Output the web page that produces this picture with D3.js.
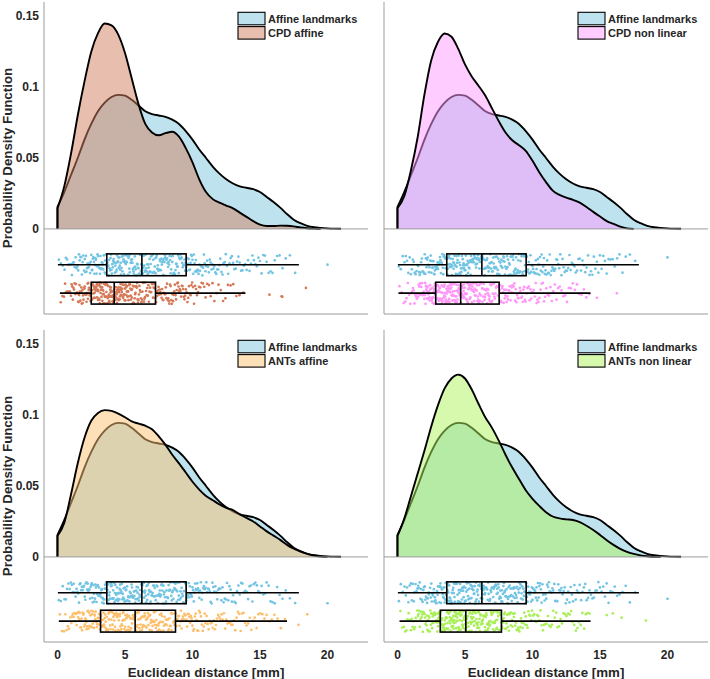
<!DOCTYPE html>
<html>
<head>
<meta charset="utf-8">
<script src="https://cdn.jsdelivr.net/npm/d3@7"></script>
<style>
  html, body { margin: 0; padding: 0; background: #fff; }
  svg { display: block; font-family: "Liberation Sans", Arial, Helvetica, sans-serif; }
</style>
</head>
<body>
<svg id="chart" width="710" height="679"></svg>
<script>
// ---------------- DATA ----------------
const xGrid = [0,0.5,1,1.5,2,2.5,3,3.5,4,4.5,5,5.5,6,6.5,7,7.5,8,8.5,9,9.5,10,10.5,11,11.5,12,12.5,13,13.5,14,14.5,15,15.5,16,16.5,17,17.5,18,18.5,19,19.5,20,20.5,21];

const seriesNames = ["Affine landmarks", "CPD affine", "CPD non linear", "ANTs affine", "ANTs non linear"];

const densAffineLandmarks = [0.0155,0.026,0.038,0.050,0.063,0.074,0.083,0.089,0.093,0.0945,0.094,0.091,0.087,0.083,0.081,0.080,0.079,0.077,0.074,0.069,0.063,0.056,0.050,0.044,0.039,0.035,0.032,0.030,0.029,0.028,0.026,0.0225,0.019,0.015,0.0105,0.0065,0.004,0.0022,0.0012,0.0007,0.0004,0.0002,0.0001];
const densCPDAffine = [0.0146,0.030,0.053,0.080,0.104,0.125,0.138,0.1448,0.1435,0.137,0.124,0.106,0.088,0.074,0.068,0.066,0.0675,0.0685,0.065,0.057,0.047,0.035,0.026,0.021,0.0185,0.0165,0.0145,0.0115,0.0085,0.0055,0.003,0.002,0.002,0.0023,0.0022,0.0018,0.001,0.0005,0.0002,0];
const densCPDNonLinear = [0.0146,0.023,0.0415,0.065,0.095,0.119,0.132,0.1378,0.1355,0.127,0.116,0.1075,0.101,0.094,0.085,0.076,0.068,0.0625,0.059,0.055,0.048,0.040,0.033,0.027,0.024,0.022,0.0205,0.0185,0.0155,0.012,0.0087,0.0055,0.0035,0.0016,0.0004,0];
const densANTsAffine = [0.0148,0.024,0.044,0.066,0.084,0.096,0.1015,0.1035,0.103,0.101,0.0985,0.0955,0.094,0.0925,0.090,0.085,0.079,0.072,0.066,0.0595,0.053,0.0475,0.043,0.040,0.037,0.0345,0.033,0.030,0.0275,0.025,0.0215,0.018,0.015,0.012,0.0085,0.0058,0.0037,0.0022,0.001,0.0002,0];
const densANTsNonLinear = [0.0148,0.027,0.043,0.059,0.075,0.092,0.107,0.119,0.1258,0.1285,0.1258,0.118,0.108,0.0985,0.091,0.082,0.072,0.063,0.055,0.047,0.041,0.036,0.0315,0.0285,0.0272,0.0265,0.026,0.0245,0.022,0.019,0.0155,0.0118,0.0085,0.0057,0.0035,0.0021,0.0011,0.0005,0.0001,0];

// box statistics: [whisker low, Q1, median, Q3, whisker high]
const boxAffineLandmarks = [0.03, 3.65, 6.25, 9.53, 17.88];
const boxCPDAffine       = [0.18, 2.5, 4.2, 7.26, 13.92];
const boxCPDNonLinear    = [0.07, 2.83, 4.68, 7.53, 14.3];
const boxANTsAffine      = [0.1, 3.19, 5.75, 8.74, 17.0];
const boxANTsNonLinear   = [0.15, 3.17, 5.06, 7.7, 14.3];

const outAffineLandmarks = [20.0];
const outCPDAffine       = [15.7, 16.6, 16.65, 18.4];
const outCPDNonLinear    = [14.77, 16.25];
const outANTsAffine      = [17.85, 18.5];
const outANTsNonLinear   = [15.5, 15.95, 16.6, 18.4];

const xTicks = [0, 5, 10, 15, 20];
const yTicks = [0, 0.05, 0.1, 0.15];
const yTickLabels = ["0", "0.05", "0.1", "0.15"];
const xLabel = "Euclidean distance [mm]";
const yLabel = "Probability Density Function";

// ---------------- STYLE ----------------
const colors = {
  "Affine landmarks": {fill: "#7fc7dd", dot: "#72c4e2"},
  "CPD affine":       {fill: "#d17f5d", dot: "#d57a58"},
  "CPD non linear":   {fill: "#ff99ff", dot: "#ff96f8"},
  "ANTs affine":      {fill: "#fbc171", dot: "#fdbf6c"},
  "ANTs non linear":  {fill: "#adf35d", dot: "#a8ef58"}
};
const series = {
  "Affine landmarks": {dens: densAffineLandmarks, box: boxAffineLandmarks, out: outAffineLandmarks},
  "CPD affine":       {dens: densCPDAffine, box: boxCPDAffine, out: outCPDAffine},
  "CPD non linear":   {dens: densCPDNonLinear, box: boxCPDNonLinear, out: outCPDNonLinear},
  "ANTs affine":      {dens: densANTsAffine, box: boxANTsAffine, out: outANTsAffine},
  "ANTs non linear":  {dens: densANTsNonLinear, box: boxANTsNonLinear, out: outANTsNonLinear}
};

const panels = [
  {x0: 44,  x1: 368, yTop: 2,   yBot: 314, cmp: "CPD affine",      showY: true,  showX: false},
  {x0: 384, x1: 708, yTop: 2,   yBot: 314, cmp: "CPD non linear",  showY: false, showX: false},
  {x0: 44,  x1: 368, yTop: 330, yBot: 642, cmp: "ANTs affine",     showY: true,  showX: true},
  {x0: 384, x1: 708, yTop: 330, yBot: 642, cmp: "ANTs non linear", showY: false, showX: true}
];

const rowCenters = [-0.0253, -0.0453];
const boxHalf = 0.0077;
const axisGray = "#9b9b9b";
const textColor = "#262626";

const svg = d3.select("#chart");

// quantile positions of a density restricted to [lo, hi] (for jittered dot strip)
function stripPoints(dens, lo, hi, n) {
  const segs = [];
  for (let i = 0; i < dens.length - 1; i++) {
    const a = Math.max(xGrid[i], lo), b = Math.min(xGrid[i + 1], hi);
    if (b <= a) continue;
    const fa = dens[i] + (dens[i + 1] - dens[i]) * (a - xGrid[i]) / (xGrid[i + 1] - xGrid[i]);
    const fb = dens[i] + (dens[i + 1] - dens[i]) * (b - xGrid[i]) / (xGrid[i + 1] - xGrid[i]);
    segs.push({a, b, w: (fa + fb) / 2 * (b - a)});
  }
  const total = d3.sum(segs, s => s.w);
  const pts = [];
  for (let k = 0; k < n; k++) {
    let p = (k + 0.5) / n * total;
    for (const s of segs) {
      if (p <= s.w) { pts.push(s.a + (s.b - s.a) * (p / s.w)); break; }
      p -= s.w;
    }
  }
  return pts;
}
function jit(k, seed) {
  const v = Math.sin((k + 1) * 12.9898 + seed * 78.233) * 43758.5453;
  return (v - Math.floor(v)) * 2 - 1;
}

panels.forEach((P, pi) => {
  const g = svg.append("g");
  const x = d3.scaleLinear().domain([-1, 23]).range([P.x0, P.x1]);
  const y = d3.scaleLinear().domain([-0.06, 0.16]).range([P.yBot, P.yTop]);
  const names = ["Affine landmarks", P.cmp];

  // densities
  names.forEach(nm => {
    const dens = series[nm].dens;
    const pts = dens.map((d, i) => [xGrid[i], d]);
    const area = d3.area().x(d => x(d[0])).y0(y(0)).y1(d => y(d[1])).curve(d3.curveMonotoneX);
    g.append("path").attr("d", area(pts))
      .attr("fill", colors[nm].fill).attr("fill-opacity", 0.5).attr("stroke", "none");
    const line = d3.line().x(d => x(d[0])).y(d => y(d[1])).curve(d3.curveMonotoneX);
    const dstr = `M${x(0)},${y(0)}` + line(pts).replace(/^M/, "L");
    g.append("path").attr("d", dstr).attr("fill", "none")
      .attr("stroke", "#000").attr("stroke-width", 1.9).attr("stroke-linejoin", "round");
  });

  // axes (gray lines)
  g.append("line").attr("x1", P.x0).attr("x2", P.x1).attr("y1", y(0)).attr("y2", y(0))
    .attr("stroke", axisGray).attr("stroke-width", 1);
  g.append("line").attr("x1", P.x0).attr("x2", P.x0).attr("y1", P.yTop).attr("y2", P.yBot)
    .attr("stroke", axisGray).attr("stroke-width", 1);
  g.append("line").attr("x1", P.x0).attr("x2", P.x1).attr("y1", P.yBot).attr("y2", P.yBot)
    .attr("stroke", axisGray).attr("stroke-width", 1);

  // strips + boxes
  names.forEach((nm, ri) => {
    const S = series[nm];
    const c = rowCenters[ri];
    const bulk = stripPoints(S.dens, S.box[0], S.box[4], 320);
    const all = bulk.concat(S.out);
    g.append("g").selectAll("circle").data(all).join("circle")
      .attr("cx", d => x(d))
      .attr("cy", (d, k) => y(c + boxHalf * 0.98 * jit(k, pi * 2 + ri + 1)))
      .attr("r", 1.35)
      .attr("fill", colors[nm].dot);
    const b = S.box;
    const yc = y(c), yt = y(c + boxHalf), yb = y(c - boxHalf);
    g.append("line").attr("x1", x(b[0])).attr("x2", x(b[1])).attr("y1", yc).attr("y2", yc)
      .attr("stroke", "#000").attr("stroke-width", 1.6);
    g.append("line").attr("x1", x(b[3])).attr("x2", x(b[4])).attr("y1", yc).attr("y2", yc)
      .attr("stroke", "#000").attr("stroke-width", 1.6);
    g.append("rect").attr("x", x(b[1])).attr("y", yt).attr("width", x(b[3]) - x(b[1])).attr("height", yb - yt)
      .attr("fill", "none").attr("stroke", "#000").attr("stroke-width", 1.6);
    g.append("line").attr("x1", x(b[2])).attr("x2", x(b[2])).attr("y1", yt).attr("y2", yb)
      .attr("stroke", "#000").attr("stroke-width", 1.6);
  });

  // y ticks
  if (P.showY) {
    g.append("g").selectAll("text").data(yTicks).join("text")
      .attr("x", P.x0 - 5).attr("y", d => y(d)).attr("dy", "0.35em")
      .attr("text-anchor", "end").attr("font-size", 12).attr("font-weight", "bold")
      .attr("fill", textColor).text((d, i) => yTickLabels[i]);
    g.append("text")
      .attr("transform", `translate(12,${(P.yTop + P.yBot) / 2}) rotate(-90)`)
      .attr("text-anchor", "middle").attr("font-size", 13.3).attr("font-weight", "bold")
      .attr("fill", textColor).text(yLabel);
  }
  // x ticks
  if (P.showX) {
    g.append("g").selectAll("text").data(xTicks).join("text")
      .attr("x", d => x(d)).attr("y", P.yBot + 8).attr("dy", "0.71em")
      .attr("text-anchor", "middle").attr("font-size", 12).attr("font-weight", "bold")
      .attr("fill", textColor).text(d => d);
    g.append("text")
      .attr("x", (P.x0 + P.x1) / 2).attr("y", P.yBot + 35)
      .attr("text-anchor", "middle").attr("font-size", 13.3).attr("font-weight", "bold")
      .attr("fill", textColor).text(xLabel);
  }

  // legend
  const lx = P.x1 - 130;
  names.forEach((nm, i) => {
    const ly = P.yTop + 10.3 + i * 14.3;
    g.append("rect").attr("x", lx).attr("y", ly).attr("width", 27).attr("height", 12.5)
      .attr("fill", colors[nm].fill).attr("fill-opacity", 0.5)
      .attr("stroke", "#000").attr("stroke-width", 1.1);
    g.append("text").attr("x", lx + 30).attr("y", ly + 6.4).attr("dy", "0.35em")
      .attr("font-size", 11).attr("font-weight", "bold").attr("fill", textColor).text(nm);
  });
});
</script>
</body>
</html>
